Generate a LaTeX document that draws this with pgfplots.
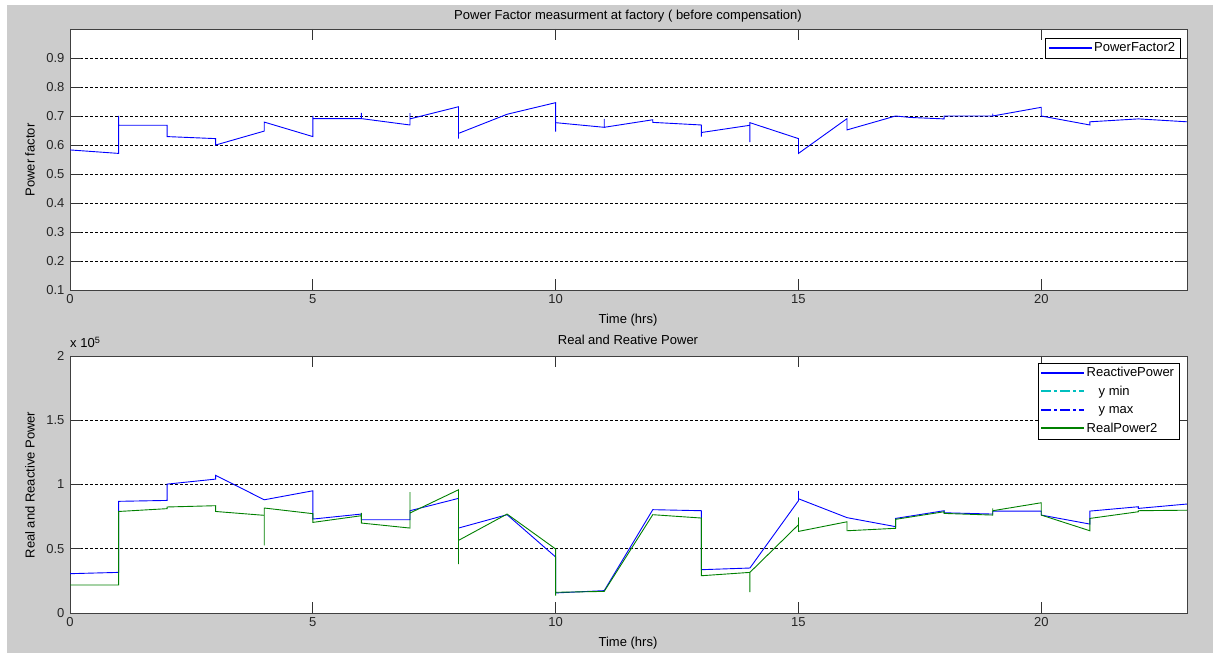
\documentclass[border=0pt]{standalone}
\usepackage{fontspec}
\setmainfont{Liberation Sans}
\usepackage{pgfplots}
\pgfplotsset{compat=1.18}
\definecolor{figgray}{RGB}{204,204,204}
\definecolor{mgreen}{RGB}{0,128,0}
\definecolor{mblue}{RGB}{0,0,255}
\definecolor{mcyan}{RGB}{0,191,191}
\newcommand{\mf}{\fontsize{13}{15}\selectfont}
\pgfplotsset{
 mstyle/.style={
  scale only axis, width=1117pt,
  xmin=0, xmax=23, xtick={0,5,10,15,20},
  axis background/.style={fill=white},
  axis line style={black!75, line width=0.9pt},
  tick style={black!80, line width=0.8pt},
  major tick length=11pt,
  tick align=inside,
  ymajorgrids,
  major grid style={black, dash pattern=on 2.5pt off 2.5pt, line width=0.8pt},
  tick label style={font=\mf, text=black!85},
  xticklabel style={yshift=-1pt},
  yticklabel style={xshift=-2pt},
  /pgf/number format/assume math mode=true,
  legend cell align=left,
  legend style={fill=white, font=\mf,
    nodes={inner sep=2.5pt, text height=10pt, text depth=3.5pt},
    inner xsep=3pt, inner ysep=1pt},
  every axis legend/.append style={draw=black, line width=0.8pt},
 },
 solidleg/.style={legend image code/.code={\fill[#1] (0pt,0.6pt) rectangle (42pt,1.4pt);}},
 dashleg/.style={legend image code/.code={%
   \fill[#1] (0pt,0.6pt) rectangle (9pt,1.4pt);
   \fill[#1] (13pt,0.6pt) rectangle (15pt,1.4pt);
   \fill[#1] (19pt,0.6pt) rectangle (28pt,1.4pt);
   \fill[#1] (32pt,0.6pt) rectangle (34pt,1.4pt);
   \fill[#1] (38pt,0.6pt) rectangle (42pt,1.4pt);}},
}
\pgfplotstableread{
x v
0 0.583
1 0.571
1 0.700
1 0.668
2 0.668
2 0.629
3 0.622
3 0.600
4 0.648
4 0.679
5 0.629
5 0.700
5 0.691
6 0.691
6 0.711
6 0.691
7 0.669
7 0.710
7 0.690
8 0.732
8 0.622
8 0.640
9 0.706
10 0.746
10 0.646
10 0.677
11 0.661
11 0.690
11 0.661
12 0.687
12 0.678
13 0.669
13 0.629
13 0.643
14 0.668
14 0.610
14 0.677
15 0.622
15 0.571
16 0.691
16 0.652
17 0.700
17.3 0.695
18 0.690
18 0.700
19 0.700
19 0.708
19 0.700
20 0.730
20 0.700
21 0.669
21 0.680
22 0.690
23 0.680
}\pf
\pgfplotstableread{
x v
0 0.306
1 0.316
1 0.869
2 0.876
2 1.003
3 1.042
3 1.071
4 0.881
5 0.951
5 0.731
6 0.770
6 0.726
7 0.726
7 0.796
8 0.892
8 0.661
9 0.765
10 0.436
10 0.156
11 0.174
12 0.804
13 0.796
13 0.337
14 0.350
15 0.874
15 0.951
15 0.889
16 0.742
17 0.672
17 0.736
18 0.796
18 0.780
19 0.770
19 0.793
20 0.793
20 0.762
21 0.692
21 0.793
22 0.827
22 0.814
23 0.848
}\reactive
\pgfplotstableread{
x v
0 0.218
1 0.218
1 0.790
2 0.812
2 0.825
3 0.835
3 0.790
4 0.760
4 0.526
4 0.817
5 0.773
5 0.705
6 0.757
6 0.780
6 0.700
7 0.661
7 0.941
7 0.778
8 0.959
8 0.381
8 0.565
9 0.770
10 0.498
10 0.135
10 0.161
11 0.168
12 0.765
13 0.739
13 0.290
14 0.316
14 0.163
14 0.316
15 0.687
15 0.744
15 0.635
16 0.710
16 0.640
17 0.659
17 0.729
18 0.788
18 0.775
19 0.762
19 0.814
19 0.796
20 0.858
20 0.762
21 0.640
21 0.736
22 0.788
22 0.796
23 0.800
}\real
\begin{document}
\begin{tikzpicture}
\fill[figgray] (7pt,0pt) rectangle (1213pt,648pt);
% top axis
\begin{axis}[mstyle, at={(70pt,363pt)}, anchor=south west, height=261pt,
  ymin=0.1, ymax=1, ytick={0.1,0.2,0.3,0.4,0.5,0.6,0.7,0.8,0.9},
  yticklabels={0.1,0.2,0.3,0.4,0.5,0.6,0.7,0.8,0.9},
  legend style={at={(1,1)}, anchor=north east, xshift=-6pt, yshift=-9pt}]
\addplot[mblue, line width=0.9pt, solidleg] table[x=x,y=v] {\pf};
\addlegendentry{PowerFactor2}
\end{axis}
% bottom axis
\begin{axis}[mstyle, at={(70pt,40pt)}, anchor=south west, height=257pt,
  ymin=0, ymax=2, ytick={0,0.5,1,1.5,2},
  yticklabels={0,0.5,1,1.5,2},
  legend style={at={(1,1)}, anchor=north east, xshift=-7pt, yshift=-7pt}]
\addplot[mblue, line width=0.9pt, solidleg] table[x=x,y=v] {\reactive};
\addlegendentry{ReactivePower}
\addlegendimage{mcyan, dashleg}
\addlegendentry{\hspace{12pt}y min}
\addlegendimage{mblue, dashleg}
\addlegendentry{\hspace{12pt}y max}
\addplot[mgreen, line width=0.9pt, solidleg] table[x=x,y=v] {\real};
\addlegendentry{RealPower2}
\end{axis}
% titles and labels
\node[font=\mf] at (628pt,637pt) {Power Factor measurment at factory ( before compensation)};
\node[font=\mf] at (628pt,333pt) {Time (hrs)};
\node[font=\mf, rotate=90] at (30pt,493pt) {Power factor};
\node[font=\mf] at (628pt,313pt) {Real and Reative Power};
\node[font=\mf] at (628pt,10pt) {Time (hrs)};
\node[font=\mf, rotate=90] at (30pt,168pt) {Real and Reactive Power};
\node[font=\mf, anchor=base west, inner sep=0pt] at (70pt,305pt) {x 10\textsuperscript{5}};
\pgfresetboundingbox
\useasboundingbox (0pt,0pt) rectangle (1213pt,653pt);
\end{tikzpicture}
\end{document}
